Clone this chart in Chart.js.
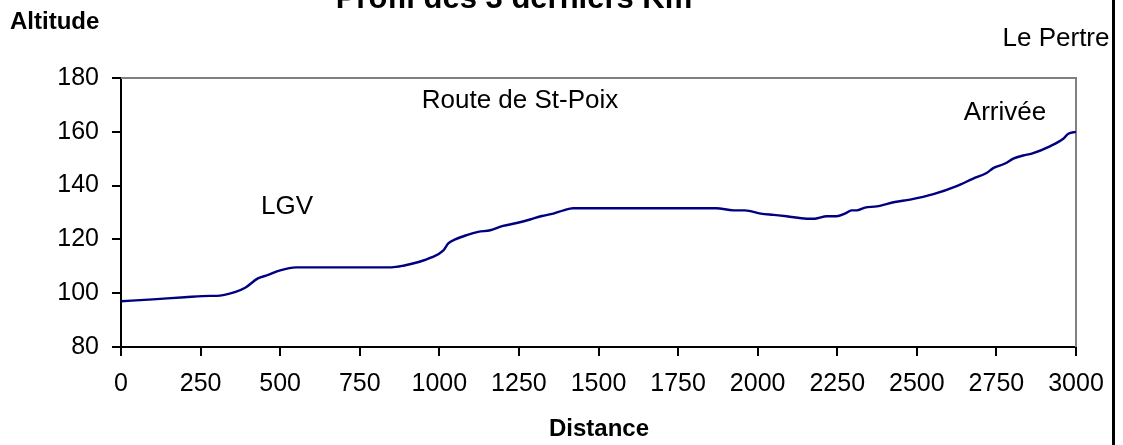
<!DOCTYPE html>
<html>
<head>
<meta charset="utf-8">
<script src="https://cdn.jsdelivr.net/npm/chart.js@4.4.0/dist/chart.umd.min.js"></script>
<style>
  body { margin: 0; background: #fff; }
  canvas { display: block; }
</style>
</head>
<body>
<canvas id="profil" width="1123" height="445"></canvas>
<script>
// Distance (m) and altitude (m)
const distances = [0, 100, 200, 280, 300, 360, 390, 430, 460, 500, 550, 600, 700, 850, 890, 935, 975, 1012, 1028, 1050, 1086, 1122, 1160, 1200, 1243, 1285, 1322, 1358, 1390, 1420, 1600, 1870, 1924, 1960, 2010, 2050, 2091, 2154, 2180, 2217, 2248, 2274, 2295, 2311, 2337, 2374, 2431, 2479, 2552, 2625, 2677, 2719, 2740, 2777, 2803, 2834, 2861, 2918, 2960, 2976, 3000];
const altitudes = [97, 97.7, 98.5, 99, 99, 100.5, 102, 105.5, 106.7, 108.5, 109.6, 109.6, 109.6, 109.6, 110.3, 111.6, 113.3, 115.8, 118.5, 120, 121.6, 122.8, 123.4, 125, 126.1, 127.4, 128.7, 129.6, 130.8, 131.6, 131.6, 131.6, 130.8, 130.8, 129.6, 129.1, 128.6, 127.7, 127.7, 128.6, 128.6, 129.6, 130.8, 130.8, 131.8, 132.3, 133.9, 134.8, 136.8, 139.8, 142.6, 144.7, 146.5, 148.2, 150, 151.2, 151.9, 154.6, 157.4, 159.3, 160];

const xTicks = [0, 250, 500, 750, 1000, 1250, 1500, 1750, 2000, 2250, 2500, 2750, 3000];
const yTicks = [80, 100, 120, 140, 160, 180];

const labels = [
  { text: 'LGV', x: 287, y: 207 },
  { text: 'Route de St-Poix', x: 520, y: 101 },
  { text: 'Arrivée', x: 1005, y: 113 },
  { text: 'Le Pertre', x: 1056, y: 39 }
];

const FONT = '"Liberation Sans", Arial, sans-serif';

// titles, annotations, plot frame and outer border
const decorations = {
  id: 'decorations',
  beforeDatasetsDraw(chart) {
    const { ctx, chartArea: a } = chart;
    ctx.save();
    ctx.strokeStyle = '#808080';
    ctx.lineWidth = 2;
    ctx.beginPath();
    ctx.moveTo(a.left, a.top);
    ctx.lineTo(a.right, a.top);
    ctx.lineTo(a.right, a.bottom);
    ctx.stroke();
    ctx.restore();
  },
  afterDraw(chart) {
    const ctx = chart.ctx;
    ctx.save();
    ctx.fillStyle = '#000';

    ctx.font = 'bold 31px ' + FONT;
    ctx.textAlign = 'center';
    ctx.textBaseline = 'alphabetic';
    ctx.fillText('Profil des 3 derniers Km', 514, 8);

    ctx.font = 'bold 24px ' + FONT;
    ctx.textBaseline = 'middle';
    ctx.textAlign = 'left';
    ctx.fillText('Altitude', 10, 22);
    ctx.textAlign = 'center';
    ctx.fillText('Distance', 599, 429);

    ctx.font = '26px ' + FONT;
    labels.forEach(l => ctx.fillText(l.text, l.x, l.y));

    ctx.fillRect(1112, 0, 3, 445);
    ctx.restore();
  }
};

const ctx = document.getElementById('profil').getContext('2d');
new Chart(ctx, {
  type: 'line',
  data: {
    datasets: [{
      data: distances.map((d, i) => ({ x: d, y: altitudes[i] })),
      borderColor: '#000080',
      borderWidth: 2.4,
      pointRadius: 0,
      fill: false,
      cubicInterpolationMode: 'monotone'
    }]
  },
  options: {
    responsive: false,
    animation: false,
    layout: { padding: { top: 78, right: 47, left: 0, bottom: 0 } },
    plugins: { legend: { display: false }, tooltip: { enabled: false } },
    scales: {
      x: {
        type: 'linear',
        min: 0,
        max: 3000,
        afterFit: s => { s.height = 98; },
        afterBuildTicks: s => { s.ticks = xTicks.map(v => ({ value: v })); },
        border: { color: '#000', width: 2 },
        grid: { drawOnChartArea: false, tickLength: 9, color: '#000', lineWidth: 2 },
        ticks: { color: '#000', font: { family: FONT, size: 25 }, padding: 13, maxRotation: 0, autoSkip: false,
                 callback: v => String(v) }
      },
      y: {
        min: 80,
        max: 180,
        afterFit: s => { s.width = 121; },
        afterBuildTicks: s => { s.ticks = yTicks.map(v => ({ value: v })); },
        border: { color: '#000', width: 2 },
        grid: { drawOnChartArea: false, tickLength: 9, color: '#000', lineWidth: 2 },
        ticks: { color: '#000', font: { family: FONT, size: 25 }, padding: 13, callback: v => String(v) }
      }
    }
  },
  plugins: [decorations]
});
</script>
</body>
</html>
